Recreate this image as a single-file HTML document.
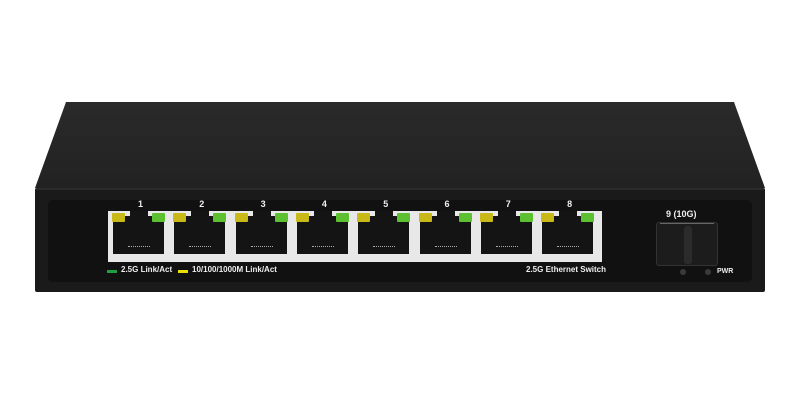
<!DOCTYPE html>
<html><head><style>
body{margin:0;width:800px;height:400px;background:#fff;position:relative;overflow:hidden;font-family:"Liberation Sans",sans-serif}
.a{position:absolute}
.p{position:absolute;background:#141414;}
.t{position:absolute;color:#eee;font-size:9px;font-weight:bold}
</style></head><body>
<svg class="a" style="left:0;top:0" width="800" height="400">
<defs><linearGradient id="g" x1="0" y1="0" x2="0" y2="1"><stop offset="0" stop-color="#2a2a2a"/><stop offset="1" stop-color="#222"/></linearGradient></defs>
<polygon points="66,102 734,102 765,188 35,188" fill="url(#g)"/>
<rect x="35" y="188" width="730" height="104" rx="2" fill="#1a1a1a"/>
<line x1="35" y1="189" x2="765" y2="189" stroke="#3a3a3a" stroke-width="1"/>
<rect x="48" y="200" width="704" height="82" rx="5" fill="#111"/>
<rect x="108" y="211" width="494" height="51" fill="#e8e8e8"/>
</svg>
<div id="ports"></div>
<div class="a" style="left:107px;top:270px;width:10px;height:3px;background:#1fa040"></div>
<div class="t" style="left:121px;top:265px;font-size:8px">2.5G Link/Act</div>
<div class="a" style="left:178px;top:270px;width:10px;height:3px;background:#e8e000"></div>
<div class="t" style="left:192px;top:265px;font-size:8px">10/100/1000M Link/Act</div>
<div class="t" style="left:526px;top:265px;font-size:8px">2.5G Ethernet Switch</div>
<div class="t" style="left:666px;top:209px">9 (10G)</div>
<div class="a" style="left:656px;top:222px;width:62px;height:44px;background:#1c1c1c;border-radius:3px;border:1px solid #333;box-sizing:border-box"></div>
<div class="a" style="left:684px;top:226px;width:8px;height:38px;background:#2b2b2b;border-radius:3px"></div>
<div class="a" style="left:660px;top:223px;width:54px;height:1px;background:#666"></div>
<div class="a" style="left:680px;top:269px;width:6px;height:6px;border-radius:50%;background:#3a3a3a"></div>
<div class="a" style="left:705px;top:269px;width:6px;height:6px;border-radius:50%;background:#3a3a3a"></div>
<div class="t" style="left:717px;top:268px;font-size:7px">PWR</div>
<script>
var h='';
for(var i=0;i<8;i++){var L=108+i*61.3;
h+='<div class="p" style="left:'+(L+5)+'px;top:216px;width:51px;height:38px"></div>';
h+='<div class="p" style="left:'+(L+22)+'px;top:211px;width:18px;height:6px"></div>';
h+='<div class="a" style="left:'+(L+4)+'px;top:213px;width:13px;height:9px;background:#c8b818;border-radius:1px"></div>';
h+='<div class="a" style="left:'+(L+44)+'px;top:213px;width:13px;height:9px;background:#5cc030;border-radius:1px"></div>';
h+='<div class="a" style="left:'+(L+20)+'px;top:246px;width:22px;height:1px;border-top:1px dotted #aaa"></div>';
h+='<div class="t" style="left:'+(L+30)+'px;top:199px">'+(i+1)+'</div>';}
document.getElementById('ports').innerHTML=h;
</script>
</body></html>
